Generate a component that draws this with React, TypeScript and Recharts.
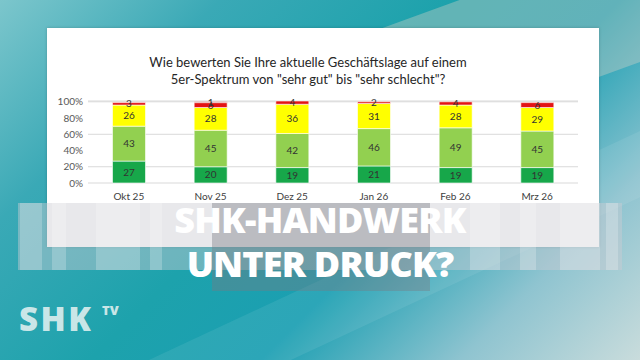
import React from "react";
import {
  Bar,
  BarChart,
  CartesianGrid,
  LabelList,
  XAxis,
  YAxis,
} from "recharts";

const months = ["Okt 25", "Nov 25", "Dez 25", "Jan 26", "Feb 26", "Mrz 26"];
const sehrGut = [27, 20, 19, 21, 19, 19];
const gut = [43, 45, 42, 46, 49, 45];
const befriedigend = [26, 28, 36, 31, 28, 29];
const schlecht = [3, 6, 4, 2, 4, 6];
const sehrSchlecht = [0, 1, 0, 0, 0, 0];
const yTicks = [0, 20, 40, 60, 80, 100];

const data = months.map((m, i) => ({
  month: m,
  sehrGut: sehrGut[i],
  gut: gut[i],
  befriedigend: befriedigend[i],
  schlecht: schlecht[i],
  sehrSchlecht: sehrSchlecht[i],
}));

const series = [
  { key: "sehrGut", color: "#17a74a" },
  { key: "gut", color: "#92d050" },
  { key: "befriedigend", color: "#ffff00" },
  { key: "schlecht", color: "#e31414" },
  { key: "sehrSchlecht", color: "#b00000" },
];

const hideZero = (v: any) => (v ? v : "");

const stripes = [
  { left: 20, width: 22 },
  { left: 52, width: 14 },
  { left: 96, width: 44 },
  { left: 150, width: 12 },
  { left: 470, width: 30 },
  { left: 520, width: 16 },
  { left: 560, width: 40 },
  { left: 606, width: 12 },
];

const bigText: React.CSSProperties = {
  position: "absolute",
  left: 120,
  width: 400,
  textAlign: "center",
  color: "#ffffff",
  fontFamily: "'Open Sans', sans-serif",
  fontWeight: 800,
  fontSize: 36,
  lineHeight: "30px",
  letterSpacing: -0.8,
};

export default function App() {
  return (
    <div
      style={{
        position: "absolute",
        left: 0,
        top: 0,
        width: 640,
        height: 360,
        overflow: "hidden",
        background:
          "linear-gradient(135deg, #7cc6cc 0%, #3aa9b6 22%, #1da2ac 45%, #1b9fb2 62%, #8fc4d0 82%, #c9dcdc 100%)",
        fontFamily: "Lato, 'Open Sans', sans-serif",
      }}
    >
      <div
        style={{
          position: "absolute",
          left: -80,
          top: 260,
          width: 900,
          height: 60,
          background: "rgba(255,255,255,0.08)",
          transform: "rotate(-25deg)",
        }}
      />
      <div
        style={{
          position: "absolute",
          left: 380,
          top: -40,
          width: 400,
          height: 120,
          background: "rgba(230,215,200,0.35)",
          transform: "rotate(-20deg)",
        }}
      />
      {/* white chart panel */}
      <div
        style={{
          position: "absolute",
          left: 47,
          top: 28,
          width: 552,
          height: 219,
          background: "#ffffff",
          boxShadow: "0 0 3px rgba(0,0,0,0.2)",
        }}
      >
        <div
          style={{
            position: "absolute",
            left: 0,
            top: 26,
            width: 522,
            textAlign: "center",
            fontSize: 13,
            lineHeight: "17px",
            color: "#262626",
          }}
        >
          Wie bewerten Sie Ihre aktuelle Geschäftslage auf einem
          <br />
          5er-Spektrum von "sehr gut" bis "sehr schlecht"?
        </div>
        <BarChart
          width={552}
          height={219}
          data={data}
          margin={{ top: 73, right: 21, left: 5, bottom: 44 }}
          barCategoryGap="30%"
        >
          <CartesianGrid vertical={false} stroke="#d9d9d9" />
          <XAxis
            dataKey="month"
            axisLine={false}
            tickLine={false}
            tickMargin={4}
            height={20}
            tick={{ fontSize: 10, fill: "#404040" }}
          />
          <YAxis
            width={36}
            domain={[0, 100]}
            ticks={yTicks}
            axisLine={false}
            tickLine={false}
            tickSize={0}
            tickMargin={5}
            tickFormatter={(v) => v + "%"}
            tick={{ fontSize: 10, fill: "#595959" }}
          />
          {series.map((s) => (
            <Bar
              key={s.key}
              dataKey={s.key}
              stackId="a"
              fill={s.color}
              stroke="#ffffff"
              strokeWidth={0.6}
              isAnimationActive={false}
            >
              <LabelList
                dataKey={s.key}
                position="center"
                formatter={hideZero}
                style={{ fontSize: 10, fill: "#333333" }}
              />
            </Bar>
          ))}
        </BarChart>
      </div>
      {/* overlay band */}
      <div
        style={{
          position: "absolute",
          left: 18,
          top: 203,
          width: 604,
          height: 67,
          background: "rgba(205,205,210,0.45)",
        }}
      />
      {stripes.map((s, i) => (
        <div
          key={i}
          style={{
            position: "absolute",
            left: s.left,
            top: 203,
            width: s.width,
            height: 67,
            background: "rgba(255,255,255,0.22)",
          }}
        />
      ))}
      <div
        style={{
          position: "absolute",
          left: 212,
          top: 203,
          width: 218,
          height: 88,
          background: "rgba(120,122,130,0.4)",
        }}
      />
      <div style={{ ...bigText, top: 205 }}>SHK-HANDWERK</div>
      <div style={{ ...bigText, top: 249 }}>UNTER DRUCK?</div>
      {/* logo */}
      <div
        style={{
          position: "absolute",
          left: 19,
          top: 296,
          color: "rgba(225,240,240,0.9)",
          fontFamily: "'Open Sans', sans-serif",
          fontWeight: 800,
          fontSize: 33,
          letterSpacing: 2.5,
        }}
      >
        SHK
        <span
          style={{
            position: "absolute",
            left: 83,
            top: 5,
            fontSize: 13,
            fontWeight: 800,
            letterSpacing: 0,
          }}
        >
          TV
        </span>
      </div>
    </div>
  );
}
